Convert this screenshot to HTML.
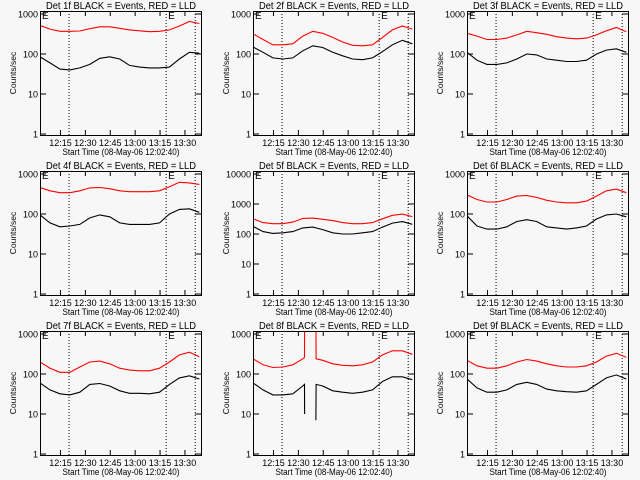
<!DOCTYPE html>
<html><head><meta charset="utf-8"><style>
html,body{margin:0;padding:0;background:#f7f7f7}
svg{display:block}
text{font-family:"Liberation Sans",sans-serif;fill:#000}
</style></head><body>
<svg id="chart" width="640" height="480" viewBox="0 0 640 480" xmlns="http://www.w3.org/2000/svg">
<rect width="640" height="480" fill="#f7f7f7"/>
</svg>
<script>
const detNames = ["1f","2f","3f","4f","5f","6f","7f","8f","9f"];
const times = [0,6,12,18,24,30,36,42,48,54,60,66,72,78,84,90,96];
const black1 = [85,60,42,40,45,55,78,85,75,52,47,45,45,47,75,110,105];
const red1 = [520,420,370,370,375,430,480,480,440,400,380,360,370,400,500,650,580];
const black2 = [150,110,80,75,80,120,160,145,110,90,75,72,80,115,170,220,180];
const red2 = [320,230,170,170,180,280,370,330,260,200,165,160,170,260,400,500,420];
const black3 = [110,70,55,55,60,75,100,95,75,70,65,65,70,100,125,135,110];
const red3 = [330,280,230,230,250,300,370,340,310,270,250,240,250,300,380,460,360];
const black4 = [95,60,48,50,55,80,95,85,60,55,55,55,60,100,130,135,110];
const red4 = [460,380,340,340,380,450,460,430,380,360,360,360,380,480,620,600,550];
const black5 = [180,120,105,110,120,160,170,140,110,100,100,110,120,170,230,260,210];
const red5 = [320,240,220,220,250,330,340,310,280,240,220,220,240,320,420,460,380];
const black6 = [90,50,42,42,48,65,72,65,48,45,42,45,50,75,95,100,85];
const red6 = [300,230,200,200,230,280,290,260,220,200,190,190,210,280,380,420,340];
const black7 = [60,40,32,30,35,55,58,50,38,33,33,32,35,55,80,90,75];
const red7 = [200,140,110,110,150,200,210,180,140,125,120,120,140,200,300,350,270];
const times8b = [0,6,12,18,24,30,31,31.1,35,37.9,38,42,48,54,60,66,72,78,84,90,96];
const black8 = [60,40,30,30,32,50,55,10,null,7,55,50,38,35,33,35,40,65,85,85,72];
const times8r = [0,6,12,18,24,30,31,31.1,37.9,38,42,48,54,60,66,72,78,84,90,96];
const red8 = [240,170,145,150,170,240,260,3000,3000,240,220,180,165,160,170,200,300,380,380,310];
const black9 = [75,45,35,35,40,55,62,55,42,38,36,35,38,55,80,95,75];
const red9 = [220,160,140,140,160,200,230,210,180,160,150,150,160,200,280,330,260];
const tickTimes = [12.33,27.33,42.33,57.33,72.33,87.33];
const tickLabels = ["12:15","12:30","12:45","13:00","13:15","13:30"];
const dottedTimes = [17.5,76,93.5];
const yTicks3 = [1,10,100,1000];
const yTicks4 = [1,10,100,1000,10000];

const svg = document.getElementById('chart');
const NS = 'http://www.w3.org/2000/svg';
function mk(tag, attrs, parent){const e=document.createElementNS(NS,tag);for(const k in attrs)e.setAttribute(k,attrs[k]);parent.appendChild(e);return e;}

const panels = [
 {b:[times,black1],r:[times,red1],dec:3},
 {b:[times,black2],r:[times,red2],dec:3},
 {b:[times,black3],r:[times,red3],dec:3},
 {b:[times,black4],r:[times,red4],dec:3},
 {b:[times,black5],r:[times,red5],dec:4},
 {b:[times,black6],r:[times,red6],dec:3},
 {b:[times,black7],r:[times,red7],dec:3},
 {b:[times8b,black8],r:[times8r,red8],dec:3},
 {b:[times,black9],r:[times,red9],dec:3}
];

panels.forEach((p,i)=>{
  const ox = [0,213,427][i%3], oy = [0,160,320][Math.floor(i/3)];
  const L=ox+40, R=ox+201, T=oy+11, B=oy+135;
  const y1=oy+134, ytop=oy+14;
  const per=(y1-ytop)/p.dec;
  const xs=t=>L+t/97*(R-L);
  const ys=v=>y1-Math.log10(v)*per;
  const g=mk('g',{},svg);
  
  
  const clipId='clip'+i;
  const cp=mk('clipPath',{id:clipId},g);
  mk('rect',{x:L,y:T,width:R-L,height:B-T},cp);
  const title=mk('text',{x:ox+121,y:oy+9,'font-size':'10','text-anchor':'middle',textLength:150,lengthAdjust:'spacingAndGlyphs'},g);
  title.textContent='Det '+detNames[i]+' BLACK = Events, RED = LLD';
  
  
  dottedTimes.forEach(t=>{
    const l=mk('line',{x1:xs(t),x2:xs(t),y1:T,y2:B,stroke:'#000','stroke-dasharray':'1,2','stroke-width':1},g);
    
    
  });
  [0,76].forEach(t=>{
    const e=mk('text',{x:xs(t)+2,y:T+8,'font-size':'10'},g);
    e.textContent='E';
    
    
  });
  [['r','#ff0000','red-lld-line'],['b','#000000','black-events-line']].forEach(([k,c,n])=>{
    const [tt,vv]=p[k];
    let d='', pen=false;
    tt.forEach((t,j)=>{
      if(vv[j]==null){pen=false;return;}
      d+=(pen?'L':'M')+xs(t).toFixed(1)+','+ys(vv[j]).toFixed(1)+' ';
      pen=true;
    });
    const pl=mk('path',{d:d,fill:'none',stroke:c,'stroke-width':1.1,'clip-path':'url(#'+clipId+')'},g);
    
    
  });
  const box=mk('rect',{x:L+0.5,y:T+0.5,width:R-L,height:B-T,fill:'none',stroke:'#000','stroke-width':1},g);
  
  
  (p.dec===4?yTicks4:yTicks3).forEach(v=>{
    const y=ys(v);
    mk('line',{x1:L,x2:L+6,y1:y,y2:y,stroke:'#000'},g);
    mk('line',{x1:R-6,x2:R,y1:y,y2:y,stroke:'#000'},g);
    const tl=mk('text',{x:L-2,y:y+3.5,'font-size':'9','text-anchor':'end'},g);
    tl.textContent=String(v);
    
    
  });
  tickTimes.forEach((t,j)=>{
    const x=xs(t);
    mk('line',{x1:x,x2:x,y1:B,y2:B-5,stroke:'#000'},g);
    mk('line',{x1:x,x2:x,y1:T,y2:T+5,stroke:'#000'},g);
    const tl=mk('text',{x:x,y:oy+146,'font-size':'9','text-anchor':'middle'},g);
    tl.textContent=tickLabels[j];
    
    
  });
  const xl=mk('text',{x:ox+121,y:oy+155,'font-size':'9.5','text-anchor':'middle',textLength:117,lengthAdjust:'spacingAndGlyphs'},g);
  xl.textContent='Start Time (08-May-06 12:02:40)';
  
  
  const yl=mk('text',{x:0,y:0,'font-size':'8.5','text-anchor':'middle',transform:'translate('+(ox+16)+','+(oy+73)+') rotate(-90)'},g);
  yl.textContent='Counts/sec';
  
  
});
</script>
</body></html>
